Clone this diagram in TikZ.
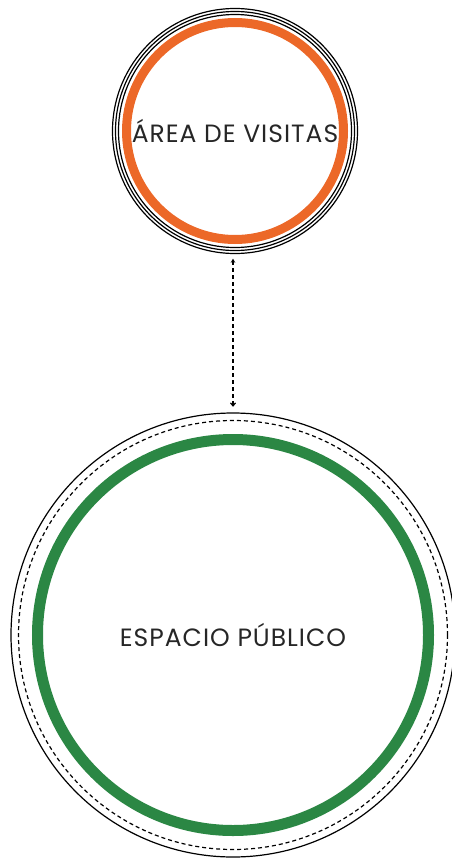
\documentclass[tikz,border=0pt]{standalone}
\usepackage{fontspec}
\setmainfont{Poppins}[LetterSpace=4]
\usetikzlibrary{arrows.meta}

\definecolor{visitasorange}{RGB}{236,104,40}
\definecolor{publicogreen}{RGB}{43,135,68}

\tikzset{
    ring/.style={line width=1.2bp},
    zone/.style={circle, inner sep=0pt, font=\fontsize{25bp}{28bp}\selectfont, text=black!85},
}

\begin{document}
\begin{tikzpicture}[x=1bp,y=-1bp]
    \useasboundingbox (0,0) rectangle (452,861);

    % Area de visitas
    \node[zone, minimum size=245bp] (visitas) at (235,131) {ÁREA DE VISITAS};
    \draw[ring] (visitas.center) circle[radius=122.5bp];
    \draw[ring] (visitas.center) circle[radius=119.5bp];
    \draw[ring] (visitas.center) circle[radius=116.5bp];
    \draw[visitasorange, line width=9bp] (visitas.center) circle[radius=108.5bp];

    % Espacio publico
    \node[zone, minimum size=444bp] (publico) at (233,635) {ESPACIO PÚBLICO};
    \draw[ring] (publico.center) circle[radius=222bp];
    \draw[ring, dash pattern=on 4bp off 3bp] (publico.center) circle[radius=214.5bp];
    \draw[publicogreen, line width=11bp] (publico.center) circle[radius=195.5bp];

    % Connection
    \draw[line width=1.2bp, dash pattern=on 4bp off 3bp,
          {Stealth[length=4bp,width=4.5bp]}-{Straight Barb[length=3bp,width=5bp]},
          shorten <=5bp, shorten >=6bp]
        ([xshift=-2bp]visitas.south) -- ([xshift=-2bp]visitas.south |- publico.north);
\end{tikzpicture}
\end{document}
